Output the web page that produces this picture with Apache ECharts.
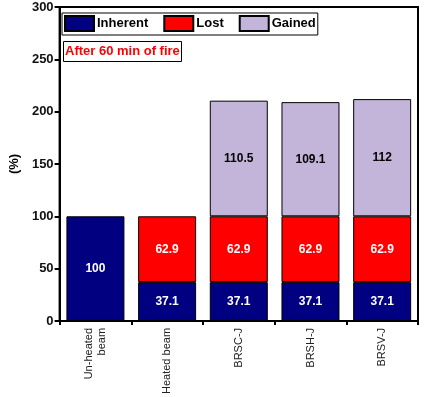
<!DOCTYPE html>
<html>
<head>
<meta charset="utf-8">
<script src="https://cdn.jsdelivr.net/npm/echarts@6/dist/echarts.min.js"></script>
<style>
  html, body { margin: 0; padding: 0; background: #fff; }
  #chart { width: 424px; height: 397px; }
</style>
</head>
<body>
<div id="chart"></div>
<script>
const categories = ['Un-heated\nbeam', 'Heated beam', 'BRSC-J', 'BRSH-J', 'BRSV-J']
const inherent = [100, 37.1, 37.1, 37.1, 37.1]
const lost = [null, 62.9, 62.9, 62.9, 62.9]
const gained = [null, null, 110.5, 109.1, 112]
const yTicks = [0, 50, 100, 150, 200, 250, 300]

const font = 'Arial, "Liberation Sans", sans-serif'
const colors = { inherent: '#000080', lost: '#ff0000', gained: '#c3b5d9' }

const chart = echarts.init(document.getElementById('chart'), null, { renderer: 'canvas' })

function barSeries(name, data, color, labelColor) {
  return {
    name, type: 'bar', stack: 'total', data,
    barWidth: 58,
    itemStyle: { color, borderColor: '#000', borderWidth: 1 },
    label: {
      show: true, position: 'inside',
      color: labelColor, fontFamily: font, fontWeight: 'bold', fontSize: 12,
      formatter: p => p.value == null ? '' : String(p.value)
    }
  }
}

chart.setOption({
  animation: false,
  backgroundColor: '#fff',
  title: {
    text: 'After 60 min of fire',
    left: 63, top: 41,
    padding: [4, 2, 4, 2],
    borderColor: '#000', borderWidth: 1,
    textStyle: { color: '#ff0000', fontFamily: font, fontWeight: 'bold', fontSize: 13 }
  },
  legend: {
    left: 62, top: 13,
    padding: [2, 2, 3, 2],
    borderColor: '#000', borderWidth: 1,
    itemWidth: 29, itemHeight: 15, itemGap: 15,
    icon: 'rect',
    textStyle: { color: '#000', fontFamily: font, fontWeight: 'bold', fontSize: 13, padding: [0, 0, 0, -2] },
    data: ['Inherent', 'Lost', 'Gained']
  },
  grid: {
    left: 53, right: 6, top: 7, bottom: 75,
    show: true, borderColor: '#000', borderWidth: 2
  },
  xAxis: {
    type: 'category', data: categories,
    axisLine: { lineStyle: { color: '#000', width: 2 } },
    axisTick: { show: true, length: 4, lineStyle: { color: '#000', width: 2 } },
    axisLabel: {
      rotate: 90, interval: 0, margin: 7,
      color: '#222', fontFamily: font, fontSize: 11, lineHeight: 13
    }
  },
  yAxis: {
    type: 'value', min: yTicks[0], max: yTicks[yTicks.length - 1], interval: 50,
    name: '(%)', nameLocation: 'middle', nameGap: 38,
    nameTextStyle: { color: '#000', fontFamily: font, fontWeight: 'bold', fontSize: 13 },
    axisLine: { show: true, lineStyle: { color: '#000', width: 2 } },
    axisTick: { show: true, length: 5, lineStyle: { color: '#000', width: 2 } },
    axisLabel: { color: '#111', fontFamily: font, fontWeight: 'bold', fontSize: 13, margin: 6 },
    splitLine: { show: false }
  },
  series: [
    barSeries('Inherent', inherent, colors.inherent, '#fff'),
    barSeries('Lost', lost, colors.lost, '#fff'),
    barSeries('Gained', gained, colors.gained, '#000')
  ]
})
</script>
</body>
</html>
